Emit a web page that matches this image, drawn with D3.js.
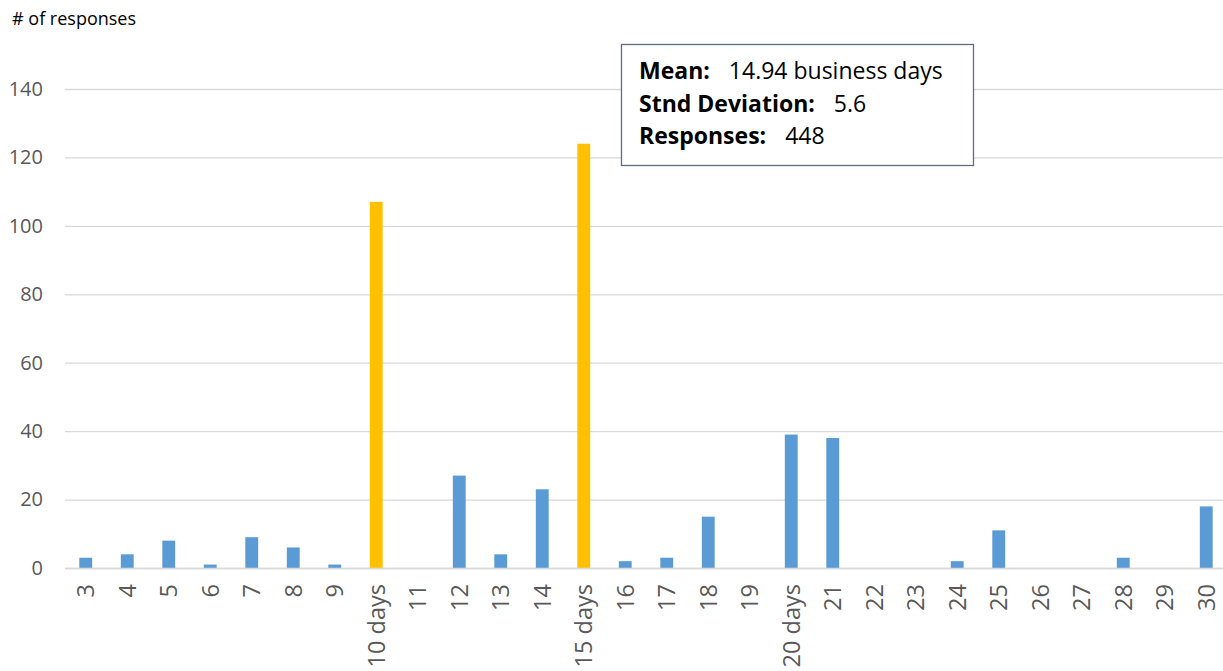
<!DOCTYPE html>
<html>
<head>
<meta charset="utf-8">
<script src="https://cdn.jsdelivr.net/npm/d3@7"></script>
<style>
  html, body { margin: 0; padding: 0; background: #fff; }
  svg { display: block; }
</style>
</head>
<body>
<svg id="chart" width="1223" height="671"></svg>
<script>
// Business days to response, and count of responses for each
const categories = ["3","4","5","6","7","8","9","10 days","11","12","13","14","15 days","16","17","18","19","20 days","21","22","23","24","25","26","27","28","29","30"];
const responses = [3,4,8,1,9,6,1,107,0,27,4,23,124,2,3,15,0,39,38,0,0,2,11,0,0,3,0,18];
const highlighted = ["10 days","15 days"];
const yTicks = [0,20,40,60,80,100,120,140];
const statLabels = ["Mean:", "Stnd Deviation:", "Responses:"];
const statValues = ["14.94 business days", "5.6", "448"];

const font = "'Open Sans', Lato, sans-serif";
const svg = d3.select("#chart");

const plot = { left: 65, right: 1227, top: 89, bottom: 568 };

const x = d3.scaleBand()
  .domain(categories)
  .range([plot.left, plot.right])
  .paddingInner(0.69)
  .paddingOuter(0.345);

const y = d3.scaleLinear()
  .domain([0, 140])
  .range([plot.bottom, plot.top]);

// horizontal gridlines and y tick labels
const yAxis = svg.append("g")
  .attr("transform", `translate(${plot.left},0)`)
  .call(d3.axisLeft(y).tickValues(yTicks).tickSize(-(plot.right - plot.left)).tickPadding(22))
  .call(g => g.select(".domain").remove());
yAxis.selectAll(".tick line").attr("stroke", "#d9d9d9").attr("stroke-width", 1.3);
yAxis.selectAll(".tick text")
  .attr("fill", "#595959")
  .style("font-family", font)
  .style("font-size", "20px");

// bars
svg.append("g")
  .selectAll("rect")
  .data(categories.map((c, i) => ({ c, v: responses[i] })))
  .join("rect")
  .attr("x", d => x(d.c))
  .attr("width", x.bandwidth())
  .attr("y", d => y(d.v))
  .attr("height", d => y(0) - y(d.v))
  .attr("fill", d => highlighted.includes(d.c) ? "#FFC000" : "#5B9BD5");

// category axis with rotated labels
const xAxis = svg.append("g")
  .attr("transform", `translate(0,${plot.bottom})`)
  .call(d3.axisBottom(x).tickSize(0).tickPadding(0));
xAxis.select(".domain").attr("stroke", "#d9d9d9").attr("stroke-width", 1.3);
xAxis.selectAll(".tick text")
  .attr("fill", "#595959")
  .style("font-family", font)
  .style("font-size", "23.5px")
  .attr("text-anchor", "end")
  .attr("dy", "0.36em")
  .attr("transform", "translate(0,16) rotate(-90)")
  .attr("x", 0)
  .attr("y", 0);

// axis title
svg.append("text")
  .attr("x", 12)
  .attr("y", 25)
  .attr("fill", "#000")
  .style("font-family", font)
  .style("font-size", "18px")
  .text("# of responses");

// summary statistics box
const box = svg.append("g");
box.append("rect")
  .attr("x", 621.5).attr("y", 44.5)
  .attr("width", 352).attr("height", 121)
  .attr("fill", "#fff")
  .attr("stroke", "#5f6f82")
  .attr("stroke-width", 1.3);

statLabels.forEach((lab, i) => {
  const t = box.append("text")
    .attr("x", 639)
    .attr("y", 79 + i * 32.5)
    .attr("fill", "#000")
    .style("font-family", font)
    .style("font-size", "23px");
  t.append("tspan").attr("font-weight", "bold").text(lab);
  t.append("tspan").attr("dx", 19).text(statValues[i]);
});
</script>
</body>
</html>
